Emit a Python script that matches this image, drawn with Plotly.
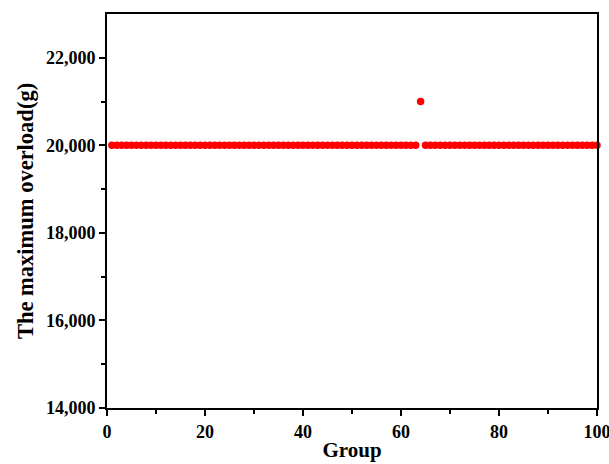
import plotly.graph_objects as go

groups = list(range(1, 101))
overload = [20000] * 100
overload[63] = 21000

x_ticks = [0, 20, 40, 60, 80, 100]
y_ticks = [14000, 16000, 18000, 20000, 22000]

fig = go.Figure()
fig.add_trace(go.Scatter(
    x=groups, y=overload, mode="markers",
    marker=dict(color="#ff0000", size=7.5, line=dict(width=0)),
    cliponaxis=False, showlegend=False,
))

fig.update_layout(
    width=609, height=464,
    margin=dict(l=107, r=12, t=14, b=56),
    plot_bgcolor="white", paper_bgcolor="white",
    font=dict(family="Liberation Serif", color="black"),
)
tickfont = dict(family="Liberation Serif", size=18, color="black")
fig.update_xaxes(
    range=[0, 100], tickvals=x_ticks, ticktext=[f"<b>{v}</b>" for v in x_ticks],
    ticks="outside", ticklen=6, tickwidth=2, tickcolor="black",
    minor=dict(tickvals=[10, 30, 50, 70, 90], ticks="outside", ticklen=4, tickwidth=2, tickcolor="black"),
    showline=True, linewidth=2, linecolor="black", mirror=True,
    showgrid=False, zeroline=False, automargin=False, ticklabeloverflow="allow",
    tickfont=tickfont,
    title=dict(text="<b>Group</b>", font=dict(family="Liberation Serif", size=21, color="black"), standoff=2),
)
fig.update_yaxes(
    range=[14000, 23000], tickvals=y_ticks, ticktext=[f"<b>{v:,}</b>" for v in y_ticks],
    ticks="outside", ticklen=6, tickwidth=2, tickcolor="black",
    minor=dict(tickvals=[15000, 17000, 19000, 21000], ticks="outside", ticklen=4, tickwidth=2, tickcolor="black"),
    showline=True, linewidth=2, linecolor="black", mirror=True,
    showgrid=False, zeroline=False, automargin=False, ticklabeloverflow="allow",
    tickfont=tickfont,
    title=dict(text="<b>The maximum overload(g)</b>", font=dict(family="Liberation Serif", size=22.5, color="black"), standoff=6),
)
fig.write_html("out.html")
